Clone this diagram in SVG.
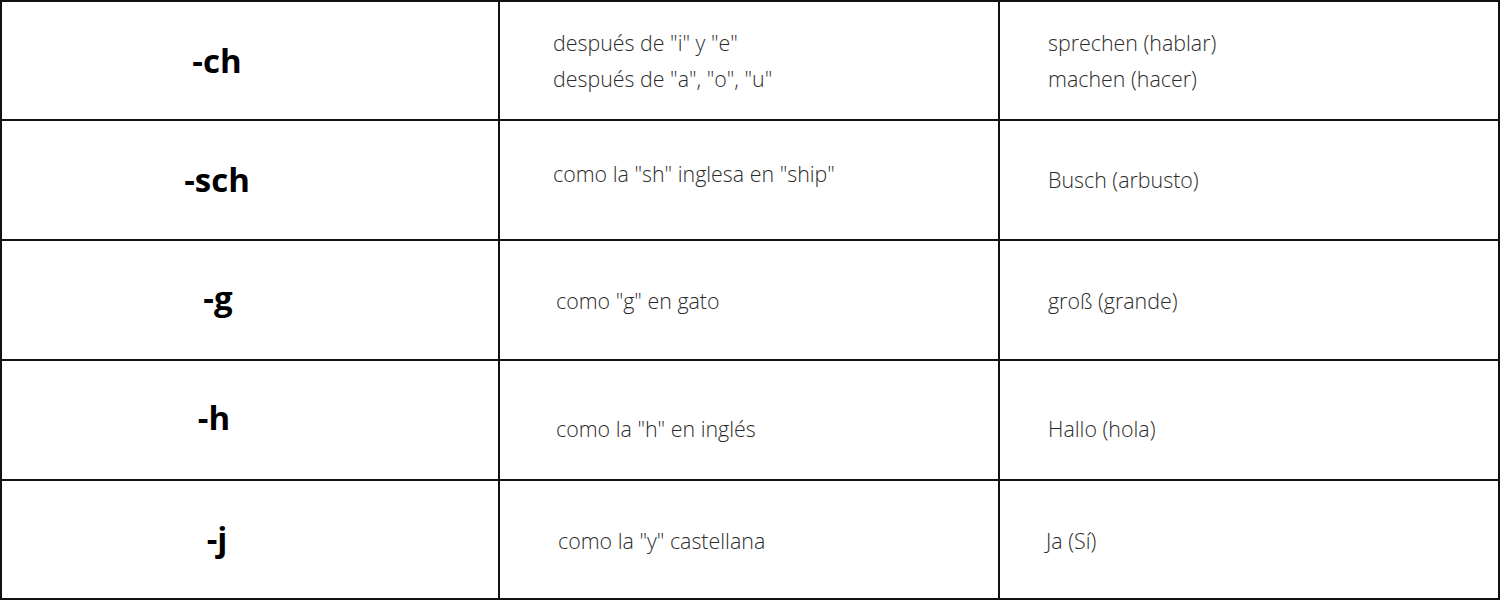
<svg xmlns="http://www.w3.org/2000/svg" width="1500" height="600" viewBox="0 0 1500 600">
<style>
.grid{stroke:#111;stroke-width:2;fill:none}
.h{font-family:"Open Sans","Liberation Sans",sans-serif;font-weight:700;font-size:33px;fill:#000;text-anchor:middle}
.t{font-family:"Open Sans","Liberation Sans",sans-serif;font-weight:300;font-size:21.4px;fill:#2b2b2b}
</style>
<rect width="1500" height="600" fill="#fff"/>
<g id="connectors">
<rect class="grid" x="1" y="1" width="1498" height="598"/>
<line class="grid" x1="499" y1="0" x2="499" y2="600"/>
<line class="grid" x1="999" y1="0" x2="999" y2="600"/>
<line class="grid" x1="0" y1="120" x2="1500" y2="120"/>
<line class="grid" x1="0" y1="240" x2="1500" y2="240"/>
<line class="grid" x1="0" y1="360" x2="1500" y2="360"/>
<line class="grid" x1="0" y1="480" x2="1500" y2="480"/>
</g>
<g id="row1">
<text class="h" x="217" y="73">-ch</text>
<text class="t" x="553" y="51">después de "i" y "e"</text>
<text class="t" x="553" y="87">después de "a", "o", "u"</text>
<text class="t" x="1048" y="51">sprechen (hablar)</text>
<text class="t" x="1048" y="87">machen (hacer)</text>
</g>
<g id="row2">
<text class="h" x="217" y="192">-sch</text>
<text class="t" x="553" y="182">como la "sh" inglesa en "ship"</text>
<text class="t" x="1048" y="188">Busch (arbusto)</text>
</g>
<g id="row3">
<text class="h" x="218" y="310">-g</text>
<text class="t" x="556" y="309">como "g" en gato</text>
<text class="t" x="1048" y="309">groß (grande)</text>
</g>
<g id="row4">
<text class="h" x="214" y="430">-h</text>
<text class="t" x="556" y="437">como la "h" en inglés</text>
<text class="t" x="1048" y="437">Hallo (hola)</text>
</g>
<g id="row5">
<text class="h" x="217" y="551">-j</text>
<text class="t" x="558" y="549">como la "y" castellana</text>
<text class="t" x="1046" y="549">Ja (Sí)</text>
</g>
</svg>
